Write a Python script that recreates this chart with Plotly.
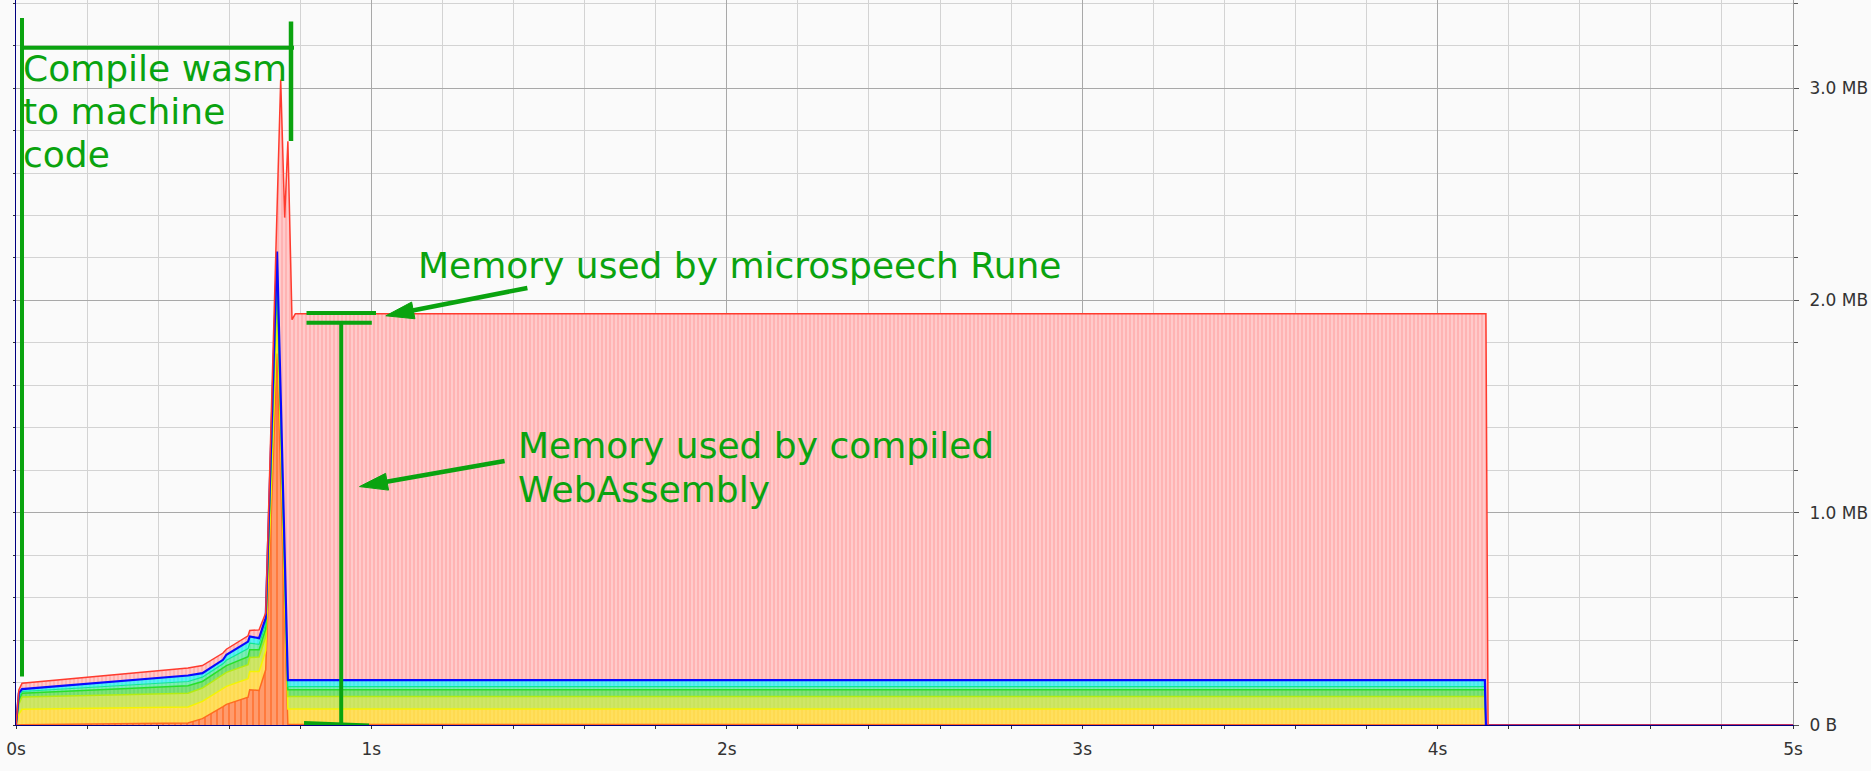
import plotly.graph_objects as go

# ---------------- data (snapshot times in seconds, cumulative layer tops in MB) -------------
T = [0.000, 0.008, 0.017, 0.484, 0.5245, 0.5825, 0.592, 0.653, 0.6576, 0.684, 0.7026,
     0.7345, 0.7448, 0.756, 0.765, 0.7766, 0.786, 4.133, 4.136, 4.142, 5.000]

orange = [0, 0, 0.001, 0.010, 0.030, 0.087, 0.097, 0.131, 0.166, 0.163, 0.260,
          1.75, 1.20, 0.50, 0.003, 0.003, 0.003, 0.003, 0, 0, 0]
gold = [0, 0.050, 0.074, 0.085, 0.111, 0.170, 0.182, 0.218, 0.252, 0.252, 0.350,
        1.93, 1.36, 0.62, 0.075, 0.075, 0.075, 0.075, 0, 0, 0]
yellowgreen = [0, 0.098, 0.132, 0.150, 0.174, 0.235, 0.248, 0.284, 0.318, 0.320, 0.415,
               2.05, 1.44, 0.70, 0.134, 0.134, 0.134, 0.134, 0, 0, 0]
green = [0, 0.118, 0.150, 0.185, 0.205, 0.268, 0.280, 0.322, 0.355, 0.355, 0.452,
         2.12, 1.49, 0.75, 0.166, 0.166, 0.166, 0.166, 0, 0, 0]
teal = [0, 0.130, 0.158, 0.205, 0.2255, 0.288, 0.305, 0.360, 0.385, 0.380, 0.475,
        2.17, 1.52, 0.78, 0.181, 0.181, 0.181, 0.181, 0, 0, 0]
blue = [0, 0.150, 0.169, 0.233, 0.244, 0.307, 0.331, 0.393, 0.417, 0.409, 0.503,
        2.23, 1.55, 0.81, 0.211, 0.211, 0.211, 0.211, 0, 0, 0]
red = [0, 0.165, 0.197, 0.268, 0.280, 0.339, 0.357, 0.420, 0.445, 0.448, 0.527,
       2.42, 3.04, 2.39, 2.75, 1.909, 1.937, 1.937, 1.937, 0, 0]

X_TICKS = [0, 1, 2, 3, 4, 5]
X_LABELS = ["0s", "1s", "2s", "3s", "4s", "5s"]
Y_TICKS = [0, 1, 2, 3]
Y_LABELS = ["0 B", "1.0 MB", "2.0 MB", "3.0 MB"]

# ---------------- geometry helpers (layout pixels -> data coords) ----------------
W, H = 1871, 771
ML, MR, MT, MB = 16, 78, 0, 46
PW, PH = W - ML - MR, H - MT - MB
XMAX = 5.0
YMAX = PH / 212.3


def dx(px):
    return (px - ML) / PW * XMAX


def dy(py):
    return (MT + PH - py) / PH * YMAX


GREEN = "#0aa30f"

fig = go.Figure()

layers = [
    (orange, "#ff6a1f", 1.5, dict(shape="|", size=6, solidity=0.28, fgcolor="#ff7434", bgcolor="#ff9b6c")),
    (gold, "#f4f400", 1.5, dict(shape="|", size=4, solidity=0.2, fgcolor="#ffd23c", bgcolor="#ffdf5e")),
    (yellowgreen, "#b4ec10", 1.5, dict(shape="|", size=4, solidity=0.2, fgcolor="#c2df50", bgcolor="#cfe668")),
    (green, "#28e028", 1.5, dict(shape="|", size=4, solidity=0.25, fgcolor="#5fd85f", bgcolor="#7fe27a")),
    (teal, "#10e890", 1.2, dict(shape="|", size=4, solidity=0.25, fgcolor="#58e6a0", bgcolor="#7eecb8")),
    (blue, "#0a0aff", 2.2, dict(shape="|", size=4, solidity=0.25, fgcolor="#30e4ee", bgcolor="#5cf0f0")),
    (red, "#ff3b2e", 1.5, dict(shape="|", size=4, solidity=0.3, fgcolor="#ffa4a4", bgcolor="#ffcaca")),
]

for i, (vals, lc, lw, patt) in enumerate(layers):
    fig.add_trace(go.Scatter(
        x=T, y=vals, mode="lines",
        line=dict(color=lc, width=lw),
        fill="tozeroy" if i == 0 else "tonexty",
        fillcolor=patt["bgcolor"],
        fillpattern=dict(fillmode="replace", **patt),
        hoverinfo="skip", showlegend=False,
    ))

# invisible trace on left axis to show its ticks
fig.add_trace(go.Scatter(x=[0], y=[0], yaxis="y2", mode="markers",
                         marker=dict(opacity=0), hoverinfo="skip", showlegend=False))

fig.update_layout(
    width=W, height=H,
    margin=dict(l=ML, r=MR, t=MT, b=MB, pad=0),
    paper_bgcolor="#fafafa", plot_bgcolor="#fafafa",
    font=dict(family="DejaVu Sans", size=17, color="#333333"),
    xaxis=dict(range=[0, XMAX], tickvals=X_TICKS, ticktext=X_LABELS,
               showgrid=True, gridcolor="#a8a8a8", gridwidth=1,
               minor=dict(tick0=0, dtick=0.2, showgrid=True, gridcolor="#d3d3d3",
                          ticks="outside", ticklen=3, tickcolor="#333333"),
               ticks="outside", ticklen=3, tickcolor="#333333",
               showline=True, linecolor="#000080", linewidth=1,
               zeroline=False, ticklabelstandoff=6, fixedrange=True),
    yaxis=dict(range=[0, YMAX], side="right", tickvals=Y_TICKS, ticktext=Y_LABELS,
               showgrid=True, gridcolor="#a8a8a8", gridwidth=1,
               minor=dict(tick0=0, dtick=0.2, showgrid=True, gridcolor="#d3d3d3",
                          ticks="outside", ticklen=4, tickcolor="#555555"),
               ticks="outside", ticklen=5, tickcolor="#555555",
               showline=True, linecolor="#a0a0a0", linewidth=1,
               zeroline=False, ticklabelstandoff=7, fixedrange=True),
    yaxis2=dict(range=[0, YMAX], overlaying="y", side="left", showgrid=False,
                zeroline=False, showline=True, linecolor="#000080", linewidth=1,
                ticks="outside", ticklen=2, tickcolor="#333333", dtick=0.2,
                showticklabels=False, fixedrange=True),
)

shapes = []


def seg(x0, y0, x1, y1, w=4.0):
    shapes.append(dict(type="line", xref="x", yref="y", x0=dx(x0), y0=dy(y0),
                       x1=dx(x1), y1=dy(y1), line=dict(color=GREEN, width=w),
                       layer="above"))


def arrow(sx, sy, tx, ty, L=28.0, hw=8.5, w=4.5):
    import math
    vx, vy = tx - sx, ty - sy
    n = math.hypot(vx, vy)
    ux, uy = vx / n, vy / n
    bx, by = tx - ux * L, ty - uy * L
    px, py = -uy, ux
    seg(sx, sy, bx + ux * 2, by + uy * 2, w)
    p1 = (bx + px * hw, by + py * hw)
    p2 = (bx - px * hw, by - py * hw)
    path = "M {} {} L {} {} L {} {} Z".format(dx(tx), dy(ty), dx(p1[0]), dy(p1[1]),
                                                dx(p2[0]), dy(p2[1]))
    shapes.append(dict(type="path", xref="x", yref="y", path=path,
                       fillcolor=GREEN, line=dict(color=GREEN, width=1), layer="above"))


# "Compile wasm" bracket
seg(22, 18, 22, 676.5, 4)
seg(20.5, 47.7, 294, 47.7, 4)
seg(291, 21.5, 291, 141, 4.5)
# microspeech bracket
seg(306.5, 313, 376, 313, 4)
seg(306.5, 322.7, 371.8, 322.7, 4)
seg(341.2, 322.7, 341.2, 724, 4)
seg(304, 723, 369, 725.5, 4)
# arrows
arrow(527.4, 288.0, 385.8, 315.8)
arrow(504.6, 461.0, 359.5, 486.6)

fig.update_layout(shapes=shapes)

ann_font = dict(family="DejaVu Sans", size=36, color=GREEN)
texts = [
    ("Compile wasm", 21, 68.4),
    ("to machine", 21, 111.5),
    ("code", 21, 154.5),
    ("Memory used by microspeech Rune", 416, 265.8),
    ("Memory used by compiled", 515.5, 445.8),
    ("WebAssembly", 515.5, 489.0),
]
for txt, x, y in texts:
    fig.add_annotation(x=dx(x), y=dy(y), xref="x", yref="y", text=txt,
                       showarrow=False, xanchor="left", yanchor="middle",
                       font=ann_font)

fig.write_html("out.html")
